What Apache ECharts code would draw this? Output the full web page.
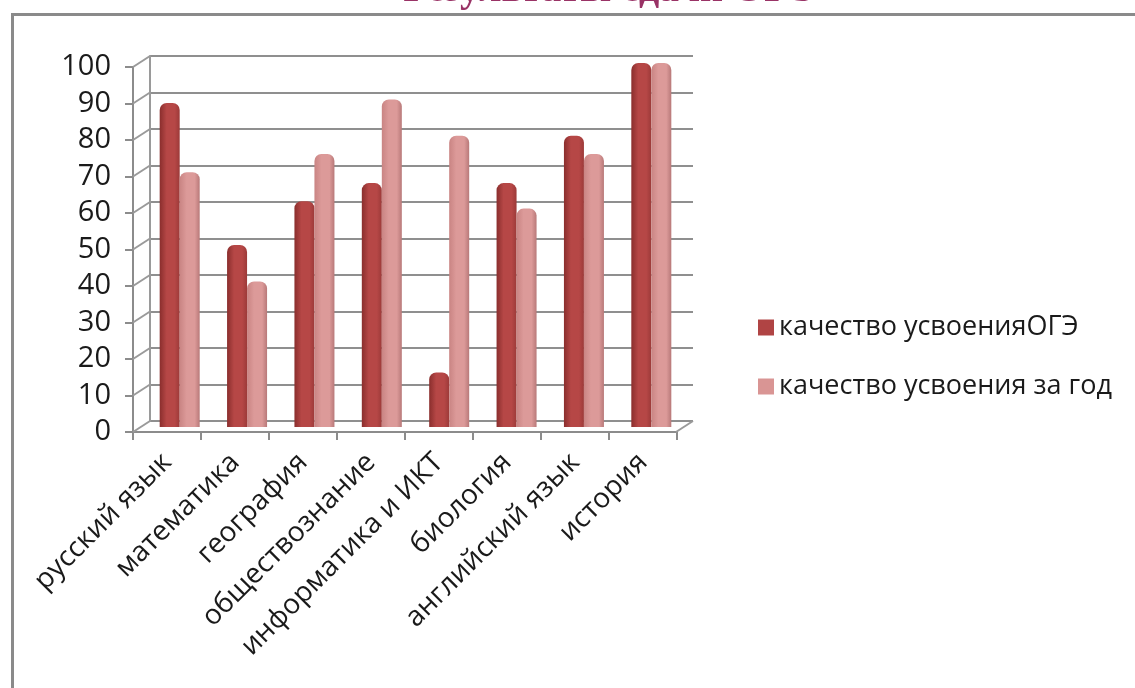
<!DOCTYPE html>
<html>
<head>
<meta charset="utf-8">
<script src="https://cdn.jsdelivr.net/npm/echarts@6/dist/echarts.min.js"></script>
<style>
html,body{margin:0;padding:0;background:#fff;}
#chart{width:1135px;height:688px;}
</style>
</head>
<body>
<div id="chart"></div>
<script>
var categories = ['русский язык','математика','география','обществознание','информатика и ИКТ','биология','английский язык','история'];
var seriesNames = ['качество усвоенияОГЭ','качество усвоения за год'];
var ogeValues = [89, 50, 62, 67, 15, 67, 80, 100];
var yearValues = [70, 40, 75, 90, 80, 60, 75, 100];
var yTicks = [0,10,20,30,40,50,60,70,80,90,100];
var titleText = 'Результаты сдачи ОГЭ';

var font = 'Open Sans';
var DX = 17, DY = -11;

function grad(c1, c2, c3) {
  return new echarts.graphic.LinearGradient(0, 0, 1, 0, [
    {offset: 0, color: c1}, {offset: 0.35, color: c2}, {offset: 0.75, color: c2}, {offset: 1, color: c3}
  ]);
}

var chart = echarts.init(document.getElementById('chart'));
chart.setOption({
  animation: false,
  backgroundColor: '#fff',
  graphic: [
    {type: 'rect', left: 10, top: 12, shape: {width: 1200, height: 800},
     style: {fill: 'none', stroke: '#8a8a8a', lineWidth: 3}, z: 0},
    {type: 'text', x: 610, y: 11,
     style: {text: titleText, font: 'bold 40px "Liberation Serif", serif', fill: '#993366',
             textAlign: 'center', textVerticalAlign: 'bottom'}, z: 10}
  ],
  legend: {
    orient: 'vertical', left: 753, top: 309, itemWidth: 16, itemHeight: 16, itemGap: 32,
    icon: 'rect',
    textStyle: {fontFamily: font, fontSize: 27, color: '#1a1a1a'},
    data: [
      {name: seriesNames[0], itemStyle: {color: '#b04444'}},
      {name: seriesNames[1], itemStyle: {color: '#d99594'}}
    ]
  },
  grid: [
    {left: 146, top: 63, width: 539, height: 364},
    {left: 133, top: 67, width: 544, height: 365},
    {left: 150, top: 56, width: 543, height: 365}
  ],
  xAxis: [
    {type: 'category', gridIndex: 0, data: categories, show: false},
    {type: 'category', gridIndex: 1, data: categories,
     axisLine: {show: true, lineStyle: {color: '#8c8c8c', width: 2}},
     axisTick: {show: true, length: 8, lineStyle: {color: '#8c8c8c', width: 2}},
     axisLabel: {rotate: 45, interval: 0, margin: 26, fontFamily: font, fontSize: 28, color: '#1a1a1a'}},
    {type: 'category', gridIndex: 2, data: categories, show: false}
  ],
  yAxis: [
    {type: 'value', gridIndex: 0, min: 0, max: 100, interval: 10, show: false},
    {type: 'value', gridIndex: 1, min: 0, max: 100, interval: 10,
     axisLine: {show: true, lineStyle: {color: '#8c8c8c', width: 2}},
     axisTick: {show: true, length: 8, lineStyle: {color: '#8c8c8c', width: 2}},
     splitLine: {show: false},
     axisLabel: {margin: 22, fontFamily: font, fontSize: 29, color: '#1a1a1a'}},
    {type: 'value', gridIndex: 2, min: 0, max: 100, interval: 10,
     axisLine: {show: true, lineStyle: {color: '#9a9a9a', width: 2}},
     axisTick: {show: false}, axisLabel: {show: false},
     splitLine: {show: true, lineStyle: {color: '#8f8f8f', width: 2}}}
  ],
  series: [
    {type: 'custom', xAxisIndex: 2, yAxisIndex: 2, silent: true, z: 1,
     data: yTicks,
     encode: {y: 0},
     renderItem: function (params, api) {
       var v = api.value(0);
       var c = api.coord([0, v]);
       var band = api.size([1, 0])[0];
       var x0 = c[0] - band / 2;
       var children = [{type: 'line', shape: {x1: x0 - DX, y1: c[1] - DY, x2: x0, y2: c[1]},
                        style: {stroke: '#9a9a9a', lineWidth: 2}}];
       if (v === 0) {
         var xr = x0 + band * categories.length;
         children.push({type: 'line', shape: {x1: xr - DX, y1: c[1] - DY, x2: xr, y2: c[1]},
                        style: {stroke: '#9a9a9a', lineWidth: 2}});
       }
       return {type: 'group', children: children};
     }},
    {name: seriesNames[0], type: 'bar', xAxisIndex: 0, yAxisIndex: 0, data: ogeValues,
     barWidth: 20, barGap: '0%', z: 3,
     itemStyle: {color: grad('#8a2e2d', '#b64746', '#9c3a39'), borderRadius: [7, 7, 0, 0]},
     emphasis: {disabled: true}},
    {name: seriesNames[1], type: 'bar', xAxisIndex: 0, yAxisIndex: 0, data: yearValues,
     barWidth: 20, barGap: '0%', z: 3,
     itemStyle: {color: grad('#c98483', '#dc9a99', '#b87979'), borderRadius: [7, 7, 0, 0]},
     emphasis: {disabled: true}}
  ]
});
</script>
</body>
</html>
